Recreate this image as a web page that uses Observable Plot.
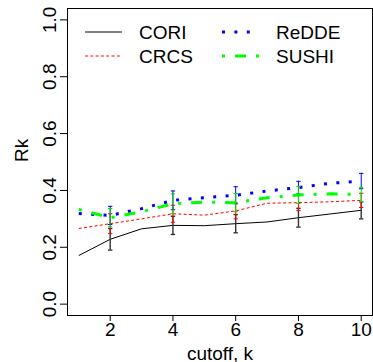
<!DOCTYPE html>
<html>
<head>
<meta charset="utf-8">
<script src="https://cdn.jsdelivr.net/npm/d3@7"></script>
<script src="https://cdn.jsdelivr.net/npm/@observablehq/plot@0.6"></script>
<style>
  html, body { margin: 0; padding: 0; background: white; }
</style>
</head>
<body>
<div id="chart"></div>
<script>
const cutoffs = [1, 2, 3, 4, 5, 6, 7, 8, 9, 10];
const errCutoffs = [2, 4, 6, 8, 10];

const seriesNames = ["CORI", "CRCS", "ReDDE", "SUSHI"];
const seriesColors = ["black", "#FF0000", "#0000FF", "#00FF00"];
const errColors = ["#333333", "#FF0000", "#0000FF", "#00DD00"];

const cori  = [0.171, 0.228, 0.265, 0.277, 0.276, 0.283, 0.289, 0.304, 0.317, 0.330];
const crcs  = [0.266, 0.283, 0.300, 0.318, 0.313, 0.328, 0.355, 0.357, 0.360, 0.365];
const redde = [0.319, 0.312, 0.336, 0.365, 0.374, 0.383, 0.398, 0.410, 0.425, 0.433];
const sushi = [0.333, 0.304, 0.325, 0.353, 0.359, 0.357, 0.374, 0.384, 0.388, 0.386];

const coriErr  = [0.038, 0.032, 0.032, 0.033, 0.030];
const crcsErr  = [0.035, 0.030, 0.028, 0.028, 0.025];
const reddeErr = [0.032, 0.033, 0.030, 0.022, 0.027];
const sushiErr = [0.032, 0.035, 0.032, 0.030, 0.025];

const yTicks = [0, 0.2, 0.4, 0.6, 0.8, 1.0];
const xTicks = [2, 4, 6, 8, 10];

const values = [cori, crcs, redde, sushi];
const errs = [coriErr, crcsErr, reddeErr, sushiErr];

// line styles (stroke width, dash pattern) per series
const styles = [
  {w: 1, dash: null},
  {w: 1, dash: "3,2.3"},
  {w: 3, dash: "3,9.4"},
  {w: 3, dash: "3,10,11,10"}
];

const font = "'Liberation Sans', Arial, Helvetica, sans-serif";

const capSymbol = {
  draw(context, size) {
    context.moveTo(-2.2, 0);
    context.lineTo(2.2, 0);
  }
};

const marks = [];
seriesNames.forEach((name, i) => {
  const lineData = cutoffs.map((k, j) => ({k, v: values[i][j]}));
  const errData = errCutoffs.map((k, j) => {
    const v = values[i][cutoffs.indexOf(k)];
    return {k, lo: v - errs[i][j], hi: v + errs[i][j]};
  });
  marks.push(Plot.line(lineData, {
    x: "k", y: "v", stroke: seriesColors[i], strokeWidth: styles[i].w,
    strokeDasharray: styles[i].dash, strokeLinecap: "butt", strokeLinejoin: "round"
  }));
  const ew = i === 0 ? 1.4 : 1;
  marks.push(Plot.ruleX(errData, {x: "k", y1: "lo", y2: "hi", stroke: errColors[i], strokeWidth: ew}));
  marks.push(Plot.dot(errData, {x: "k", y: "lo", symbol: capSymbol, r: 2, fill: "none", stroke: errColors[i], strokeWidth: ew}));
  marks.push(Plot.dot(errData, {x: "k", y: "hi", symbol: capSymbol, r: 2, fill: "none", stroke: errColors[i], strokeWidth: ew}));
});

const chart = Plot.plot({
  width: 373,
  height: 362,
  marginLeft: 67,
  marginRight: 1,
  marginTop: 8,
  marginBottom: 47,
  style: {fontFamily: font, fontSize: "19px", color: "black", background: "white", overflow: "visible"},
  x: {domain: [0.64, 10.36]},
  y: {domain: [-0.04, 1.04]},
  marks: [
    Plot.axisY({ticks: yTicks, tickFormat: d3.format(".1f"), tickSize: 7, tickPadding: 5, tickRotate: -90, label: null, fontSize: 19}),
    Plot.axisX({ticks: xTicks, tickSize: 6, tickPadding: 1, label: null, fontSize: 19}),
    ...marks,
    Plot.frame({stroke: "black"}),
    Plot.text(["cutoff, k"], {text: d => d, frameAnchor: "bottom", dy: 44, lineAnchor: "bottom", fontSize: 19}),
    Plot.text(["Rk"], {text: d => d, frameAnchor: "left", dx: -40, rotate: -90, lineAnchor: "bottom", fontSize: 19})
  ]
});

document.getElementById("chart").appendChild(chart);

// Legend (two columns, two rows) inside plot area
const svg = d3.select(chart);
const legend = svg.append("g")
  .attr("font-family", font)
  .attr("font-size", 19)
  .attr("text-anchor", "start");
const colX = [85, 222];
const rowY = [32, 56];
seriesNames.forEach((name, i) => {
  const col = Math.floor(i / 2), row = i % 2;
  const x0 = colX[col], y0 = rowY[row];
  legend.append("line")
    .attr("x1", x0).attr("x2", x0 + 37)
    .attr("y1", y0).attr("y2", y0)
    .attr("stroke", seriesColors[i])
    .attr("stroke-width", styles[i].w)
    .attr("stroke-dasharray", styles[i].dash)
    .attr("stroke-linecap", "butt");
  legend.append("text")
    .attr("x", x0 + 54).attr("y", y0 + 7)
    .attr("fill", "black")
    .attr("text-anchor", "start")
    .text(name);
});
</script>
</body>
</html>
